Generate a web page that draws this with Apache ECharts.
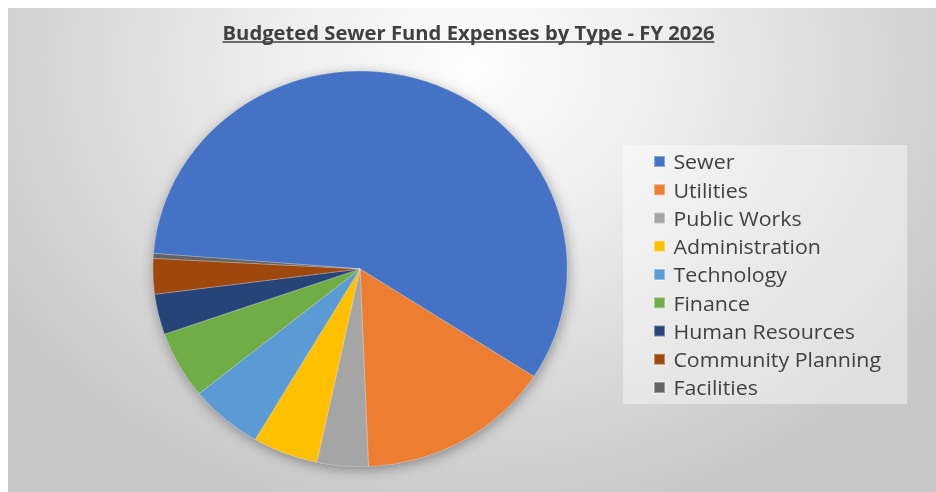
<!DOCTYPE html>
<html>
<head>
<meta charset="utf-8">
<title>Budgeted Sewer Fund Expenses by Type - FY 2026</title>
<script src="https://cdn.jsdelivr.net/npm/echarts@6/dist/echarts.min.js"></script>
<style>
  html, body { margin: 0; padding: 0; background: #ffffff; }
  #frame {
    position: absolute; left: 8px; top: 8px; width: 928px; height: 484px;
    overflow: hidden;
    background: radial-gradient(ellipse 60% 95% at 50% 12%,
      #fdfdfd 0%, #eeeeee 35%, #d6d6d6 75%, #c8c8c8 100%);
  }
  /* the chart is laid out on a slightly narrower canvas and widened to fill the frame */
  #chart { width: 886px; height: 484px; transform: scaleX(1.0474); transform-origin: 0 0; }
</style>
</head>
<body>
<div id="frame"><div id="chart"></div></div>
<script>
// Budget shares (% of total sewer fund expenses) by department
const categories = ['Sewer', 'Utilities', 'Public Works', 'Administration', 'Technology',
                    'Finance', 'Human Resources', 'Community Planning', 'Facilities'];
const shares = [57.9, 15.2, 4.0, 5.1, 5.7, 5.5, 3.3, 2.9, 0.4];
const chartTitle = 'Budgeted Sewer Fund Expenses by Type - FY 2026';

// Office palette
const palette = ['#4472C4', '#ED7D31', '#A5A5A5', '#FFC000', '#5B9BD5',
                 '#70AD47', '#264478', '#9E480E', '#636363'];

const titleFont = { family: 'Open Sans', size: 19.3, weight: 'bold' };
const legendFont = { family: 'Open Sans', size: 20.4 };

// width of the title, used for its underline and centring
const ctx = document.createElement('canvas').getContext('2d');
ctx.font = titleFont.weight + ' ' + titleFont.size + 'px "' + titleFont.family + '"';
const titleWidth = ctx.measureText(chartTitle).width;
const titleCenterX = 439.6;
const titleLeft = titleCenterX - titleWidth / 2;

const pieCenter = [336.1, 260.9];
const pieRadius = 197.8;

const chart = echarts.init(document.getElementById('chart'), null, { renderer: 'svg' });

chart.setOption({
  backgroundColor: 'transparent',
  animation: false,
  color: palette,
  title: {
    text: chartTitle,
    left: titleLeft,
    top: 15.6,
    padding: 0,
    textStyle: {
      fontFamily: titleFont.family,
      fontSize: titleFont.size,
      fontWeight: titleFont.weight,
      color: '#404040'
    }
  },
  graphic: [
    { // title underline
      type: 'rect', z: 10, silent: true,
      shape: { x: titleLeft, y: 33.2, width: titleWidth, height: 1.6 },
      style: { fill: '#404040' }
    },
    { // legend panel
      type: 'rect', z: 1, silent: true,
      shape: { x: 587.2, y: 137, width: 271.3, height: 259 },
      style: { fill: 'rgba(255,255,255,0.42)' }
    }
  ],
  legend: {
    orient: 'vertical',
    left: 615.8,
    top: 141.5,
    padding: 0,
    itemWidth: 10.5,
    itemHeight: 11,
    itemGap: 4.25,
    icon: 'rect',
    selectedMode: false,
    data: categories,
    textStyle: {
      fontFamily: legendFont.family,
      fontSize: legendFont.size,
      lineHeight: 20,
      color: '#404040',
      padding: [0, 0, 4, 3]
    }
  },
  series: [
    { // soft drop shadow beneath the pie
      type: 'pie',
      silent: true,
      z: 1,
      center: pieCenter,
      radius: pieRadius,
      label: { show: false },
      labelLine: { show: false },
      emphasis: { disabled: true },
      tooltip: { show: false },
      legendHoverLink: false,
      data: [{ value: 1, name: '', itemStyle: { color: '#9a9a9a' } }],
      itemStyle: {
        shadowBlur: 12,
        shadowColor: 'rgba(0,0,0,0.35)',
        shadowOffsetX: 1,
        shadowOffsetY: 3
      }
    },
    {
      type: 'pie',
      z: 2,
      center: pieCenter,
      radius: pieRadius,
      startAngle: 175.5,
      clockwise: true,
      label: { show: false },
      labelLine: { show: false },
      emphasis: { disabled: true },
      itemStyle: { borderColor: 'rgba(255,255,255,0.35)', borderWidth: 0.7 },
      data: categories.map((name, i) => ({ name, value: shares[i] }))
    }
  ]
});
</script>
</body>
</html>
